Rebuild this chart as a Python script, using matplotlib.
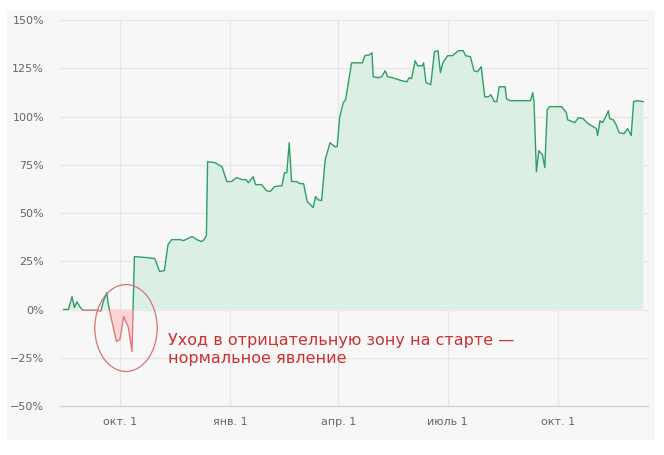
import numpy as np
import matplotlib
matplotlib.use('Agg')
from matplotlib import pyplot as plt
import matplotlib.dates as mdates
import matplotlib.transforms as mtransforms
from matplotlib.patches import Rectangle, Ellipse
from matplotlib.ticker import FuncFormatter, MultipleLocator

# portfolio return, %
dates = [
    '2020-08-15', '2020-08-19', '2020-08-22', '2020-08-24', '2020-08-26', '2020-08-29',
    '2020-08-31', '2020-09-12', '2020-09-15', '2020-09-17', '2020-09-20', '2020-09-21',
    '2020-09-23', '2020-09-28', '2020-10-01', '2020-10-04', '2020-10-08', '2020-10-11',
    '2020-10-13', '2020-10-23', '2020-10-30', '2020-11-03', '2020-11-07', '2020-11-10',
    '2020-11-13', '2020-11-20', '2020-11-23', '2020-11-30', '2020-12-04', '2020-12-08',
    '2020-12-10', '2020-12-12', '2020-12-13', '2020-12-19', '2020-12-25', '2020-12-29',
    '2021-01-02', '2021-01-06', '2021-01-11', '2021-01-14', '2021-01-16', '2021-01-20',
    '2021-01-22', '2021-01-27', '2021-01-31', '2021-02-03', '2021-02-07', '2021-02-13',
    '2021-02-15', '2021-02-17', '2021-02-19', '2021-02-21', '2021-02-25', '2021-02-28',
    '2021-03-03', '2021-03-06', '2021-03-11', '2021-03-13', '2021-03-15', '2021-03-18',
    '2021-03-21', '2021-03-25', '2021-03-29', '2021-03-31', '2021-04-02', '2021-04-05',
    '2021-04-07', '2021-04-12', '2021-04-21', '2021-04-23', '2021-04-27', '2021-04-29',
    '2021-04-30', '2021-05-04', '2021-05-07', '2021-05-10', '2021-05-12', '2021-05-16',
    '2021-05-24', '2021-05-28', '2021-05-30', '2021-06-01', '2021-06-04', '2021-06-06',
    '2021-06-10', '2021-06-11', '2021-06-13', '2021-06-17', '2021-06-20', '2021-06-23',
    '2021-06-25', '2021-06-27', '2021-07-01', '2021-07-05', '2021-07-10', '2021-07-14',
    '2021-07-16', '2021-07-20', '2021-07-23', '2021-07-26', '2021-07-29', '2021-08-01',
    '2021-08-04', '2021-08-06', '2021-08-09', '2021-08-11', '2021-08-13', '2021-08-18',
    '2021-08-19', '2021-08-22', '2021-09-08', '2021-09-10', '2021-09-11', '2021-09-13',
    '2021-09-15', '2021-09-18', '2021-09-20', '2021-09-22', '2021-09-24', '2021-10-04',
    '2021-10-08', '2021-10-09', '2021-10-13', '2021-10-15', '2021-10-18', '2021-10-22',
    '2021-10-25', '2021-10-29', '2021-11-02', '2021-11-03', '2021-11-05', '2021-11-07',
    '2021-11-09', '2021-11-12', '2021-11-13', '2021-11-16', '2021-11-18', '2021-11-21',
    '2021-11-25', '2021-11-28', '2021-12-01', '2021-12-03', '2021-12-06', '2021-12-11',
]
values = [
    0.0, 0.0, 6.7, 1.0, 4.0, 1.0,
    -0.4, -0.4, -1.0, 4.0, 8.8, 3.6,
    -2.6, -16.6, -15.5, -3.6, -9.3, -21.7,
    27.4, 26.9, 26.4, 19.7, 20.2, 33.6,
    36.2, 36.2, 35.7, 37.8, 36.2, 35.2,
    36.2, 38.3, 76.6, 76.1, 74.0, 66.3,
    66.3, 68.3, 67.3, 67.3, 65.7, 68.8,
    64.7, 64.7, 61.6, 61.1, 63.7, 64.2,
    70.9, 70.9, 86.4, 66.3, 66.3, 65.2,
    65.2, 55.9, 52.8, 58.5, 56.9, 56.4,
    77.6, 86.4, 84.4, 84.4, 99.4, 107.1,
    108.7, 127.8, 127.8, 131.5, 132.0, 133.0,
    120.6, 120.1, 120.6, 123.7, 120.6, 120.1,
    118.5, 118.0, 120.1, 119.6, 128.9, 126.3,
    126.3, 127.8, 117.5, 116.5, 133.5, 134.1,
    122.7, 127.8, 131.5, 131.5, 134.1, 134.1,
    131.5, 131.0, 123.7, 123.2, 125.8, 110.2,
    110.2, 111.3, 107.7, 107.7, 115.4, 115.4,
    109.2, 108.2, 108.2, 112.3, 107.7, 71.4,
    82.3, 80.2, 73.5, 103.5, 105.1, 105.1,
    102.0, 98.3, 97.3, 96.8, 99.4, 98.9,
    96.8, 95.2, 93.7, 90.1, 97.8, 96.8,
    98.9, 103.0, 98.9, 98.3, 96.3, 91.6,
    91.1, 93.7, 90.1, 107.7, 108.2, 107.7,
]

month_names = ['янв.', 'февр.', 'март', 'апр.', 'май', 'июнь',
               'июль', 'авг.', 'сент.', 'окт.', 'нояб.', 'дек.']
note_text = 'Уход в отрицательную зону на старте —\nнормальное явление'
note_date = '2020-11-10'
note_value = -12.0
ring_date = '2020-10-06'
ring_value = -9.6
ring_days = 52
ring_span = 45

green = '#2f9e66'
green_fill = '#dcefe4'
red = '#e2787a'
red_fill = '#f8d5d6'
note_red = '#c83232'

x = mdates.date2num(np.array(dates, dtype='datetime64[D]'))
y = np.array(values)

fig = plt.figure(figsize=(6.64, 4.55), dpi=100)
fig.patch.set_facecolor('white')
fig.patches.append(Rectangle((7 / 664, 15 / 455), 648 / 664, 430 / 455,
                             transform=fig.transFigure, facecolor='#f7f7f7',
                             edgecolor='none', zorder=-10))

ax = fig.add_axes([60 / 664, 1 - 406 / 455, 588 / 664, 386 / 455])
ax.set_facecolor('none')

ax.fill_between(x, y, 0, where=y >= 0, interpolate=True, color=green_fill, lw=0, zorder=1)
ax.fill_between(x, y, 0, where=y <= 0, interpolate=True, color=red_fill, lw=0, zorder=1)

# line is green above zero and red below it
trans = mtransforms.blended_transform_factory(ax.transAxes, ax.transData)
up, = ax.plot(x, y, color=green, lw=1.0, zorder=3)
up.set_clip_path(Rectangle((0, 0), 1, 500, transform=trans))
down, = ax.plot(x, y, color=red, lw=1.0, zorder=3)
down.set_clip_path(Rectangle((0, -500), 1, 500, transform=trans))

cx = mdates.date2num(np.datetime64(ring_date))
ax.add_patch(Ellipse((cx, ring_value), ring_days, ring_span, fill=False,
                     edgecolor='#d47575', lw=0.9, zorder=4))
ax.text(mdates.date2num(np.datetime64(note_date)), note_value, note_text,
        color=note_red, fontsize=11.5, va='top', ha='left', linespacing=1.3, zorder=5)

ax.set_ylim(-50, 150)
ax.set_xlim(mdates.date2num(np.datetime64('2020-08-12')),
            mdates.date2num(np.datetime64('2021-12-15')))
ax.yaxis.set_major_locator(MultipleLocator(25))
ax.yaxis.set_major_formatter(FuncFormatter(lambda v, p: '{:d}%'.format(int(v)).replace('-', '−')))
ax.xaxis.set_major_locator(mdates.MonthLocator(bymonth=[1, 4, 7, 10]))
ax.xaxis.set_major_formatter(FuncFormatter(
    lambda v, p: '{} 1'.format(month_names[mdates.num2date(v).month - 1])))

ax.grid(True, color='#e6e6e6', lw=0.9, zorder=0)
ax.set_axisbelow(True)
for s in ['top', 'right', 'left']:
    ax.spines[s].set_visible(False)
ax.spines['bottom'].set_color('#ccd6eb')
ax.spines['bottom'].set_linewidth(1.0)
ax.tick_params(axis='both', length=0, labelsize=8, labelcolor='#666666')
ax.tick_params(axis='y', pad=11.5)
ax.tick_params(axis='x', pad=8)

plt.savefig('out.png', dpi=100)
